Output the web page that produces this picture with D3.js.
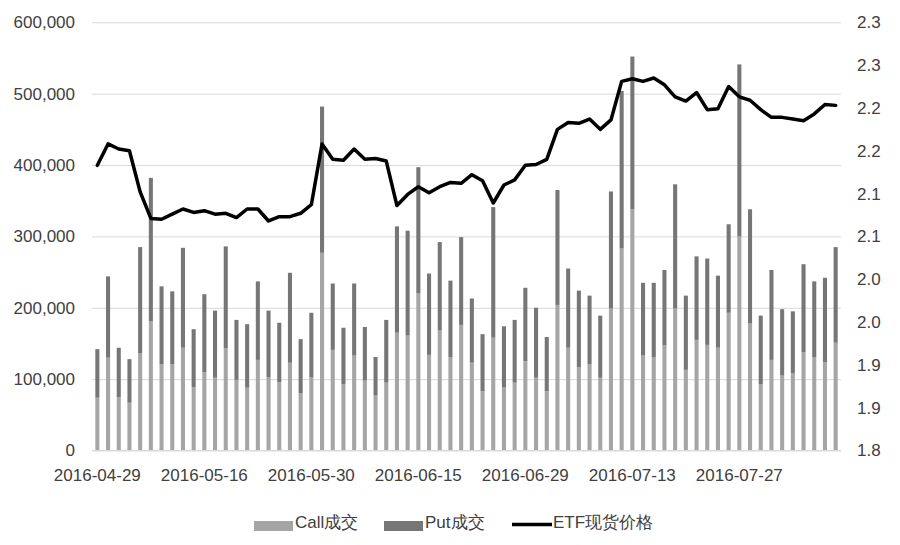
<!DOCTYPE html>
<html>
<head>
<meta charset="utf-8">
<script src="https://cdn.jsdelivr.net/npm/d3@7"></script>
<style>
  html, body { margin: 0; padding: 0; background: #fff; }
  svg { display: block; }
  text { font-family: "Liberation Sans", Arial, sans-serif; fill: #404040; }
</style>
</head>
<body>
<svg id="chart" width="900" height="545"></svg>
<script>
// ---- data ----
const dates = [
  "2016-04-29","2016-05-03","2016-05-04","2016-05-05","2016-05-06","2016-05-09","2016-05-10","2016-05-11","2016-05-12","2016-05-13",
  "2016-05-16","2016-05-17","2016-05-18","2016-05-19","2016-05-20","2016-05-23","2016-05-24","2016-05-25","2016-05-26","2016-05-27",
  "2016-05-30","2016-05-31","2016-06-01","2016-06-02","2016-06-03","2016-06-06","2016-06-07","2016-06-08","2016-06-13","2016-06-14",
  "2016-06-15","2016-06-16","2016-06-17","2016-06-20","2016-06-21","2016-06-22","2016-06-23","2016-06-24","2016-06-27","2016-06-28",
  "2016-06-29","2016-06-30","2016-07-01","2016-07-04","2016-07-05","2016-07-06","2016-07-07","2016-07-08","2016-07-11","2016-07-12",
  "2016-07-13","2016-07-14","2016-07-15","2016-07-18","2016-07-19","2016-07-20","2016-07-21","2016-07-22","2016-07-25","2016-07-26",
  "2016-07-27","2016-07-28","2016-07-29","2016-08-01","2016-08-02","2016-08-03","2016-08-04","2016-08-05","2016-08-08","2016-08-09"
];
const callVolume = [
  74000,130000,75000,67000,136000,181000,121000,121000,144000,89000,
  110000,102000,143000,99000,88000,127000,103000,96000,123000,80000,
  103000,277000,141000,93000,133000,98000,77000,95000,165000,161000,
  220000,134000,168000,131000,176000,123000,83000,158000,89000,95000,
  125000,102000,83000,204000,144000,117000,121000,102000,199000,283000,
  338000,133000,131000,147000,199000,113000,155000,148000,144000,193000,
  300000,178000,93000,127000,105000,108000,138000,131000,124000,151000
];
const putVolume = [
  68000,114000,69000,61000,149000,201000,109000,102000,140000,81000,
  109000,94000,143000,84000,89000,110000,93000,83000,126000,76000,
  90000,205000,93000,79000,101000,75000,54000,88000,149000,147000,
  177000,114000,124000,107000,123000,90000,80000,183000,85000,88000,
  103000,98000,76000,161000,111000,107000,96000,87000,164000,221000,
  214000,102000,104000,106000,174000,104000,117000,121000,101000,124000,
  241000,160000,96000,126000,93000,87000,123000,106000,118000,134000
];
const etfPrice = [
  2.133,2.158,2.152,2.150,2.102,2.071,2.070,2.076,2.082,2.078,
  2.080,2.076,2.077,2.072,2.082,2.082,2.068,2.073,2.073,2.077,
  2.087,2.158,2.140,2.139,2.152,2.140,2.141,2.138,2.086,2.099,
  2.108,2.101,2.108,2.113,2.112,2.122,2.115,2.089,2.110,2.116,
  2.133,2.134,2.140,2.175,2.183,2.182,2.187,2.175,2.186,2.231,
  2.234,2.231,2.235,2.227,2.213,2.208,2.218,2.198,2.199,2.225,
  2.213,2.209,2.198,2.189,2.189,2.187,2.185,2.193,2.204,2.203
];
const leftTicks = [0, 100000, 200000, 300000, 400000, 500000, 600000];
const rightTicks = [1.80, 1.85, 1.90, 1.95, 2.00, 2.05, 2.10, 2.15, 2.20, 2.25, 2.30];
const rightTickLabels = ["1.8","1.9","1.9","2.0","2.0","2.1","2.1","2.2","2.2","2.3","2.3"];
const xTickDates = ["2016-04-29","2016-05-16","2016-05-30","2016-06-15","2016-06-29","2016-07-13","2016-07-27"];
const seriesNames = ["Call成交", "Put成交", "ETF现货价格"];
const colors = { call: "#a5a5a5", put: "#767676", line: "#000000", grid: "#d9d9d9" };

// ---- layout ----
const svg = d3.select("#chart");
const plot = { left: 92, right: 841, top: 22.3, bottom: 450.5 };

const x = d3.scaleBand().domain(dates).range([plot.left, plot.right]).paddingInner(0.62).paddingOuter(0.31);
const yL = d3.scaleLinear().domain([0, 600000]).range([plot.bottom, plot.top]);
const yR = d3.scaleLinear().domain([1.8, 2.3]).range([plot.bottom, plot.top]);

// gridlines
svg.append("g")
  .attr("transform", `translate(${plot.left},0)`)
  .call(d3.axisLeft(yL).tickValues(leftTicks).tickSize(-(plot.right - plot.left)).tickFormat(""))
  .call(g => g.select(".domain").remove())
  .call(g => g.selectAll("line").attr("stroke", colors.grid).attr("stroke-width", 1));

// left axis labels
svg.append("g")
  .attr("transform", `translate(${plot.left - 17},0)`)
  .call(d3.axisLeft(yL).tickValues(leftTicks).tickSize(0).tickPadding(0).tickFormat(d3.format(",")))
  .call(g => g.select(".domain").remove())
  .call(g => g.selectAll("text").style("font-size", "17px").attr("fill", "#404040").attr("font-family", "Liberation Sans, Arial, sans-serif"));

// right axis labels
svg.append("g")
  .attr("transform", `translate(857,0)`)
  .call(d3.axisRight(yR).tickValues(rightTicks).tickSize(0).tickPadding(0)
    .tickFormat((d, i) => rightTickLabels[i]))
  .call(g => g.select(".domain").remove())
  .call(g => g.selectAll("text").style("font-size", "17px").attr("fill", "#404040").attr("font-family", "Liberation Sans, Arial, sans-serif"));

// stacked bars
const rows = dates.map((d, i) => ({ date: d, call: callVolume[i], put: putVolume[i] }));
const stack = d3.stack().keys(["call", "put"])(rows);
svg.append("g").selectAll("g").data(stack).join("g")
  .attr("fill", s => colors[s.key])
  .selectAll("rect").data(s => s).join("rect")
  .attr("x", d => x(d.data.date))
  .attr("width", x.bandwidth())
  .attr("y", d => yL(d[1]))
  .attr("height", d => yL(d[0]) - yL(d[1]));

// baseline
svg.append("line")
  .attr("x1", plot.left).attr("x2", plot.right)
  .attr("y1", plot.bottom).attr("y2", plot.bottom)
  .attr("stroke", colors.grid).attr("stroke-width", 1);

// x axis labels
svg.append("g")
  .attr("transform", `translate(0,${plot.bottom})`)
  .call(d3.axisBottom(x).tickValues(xTickDates).tickSize(0).tickPadding(18))
  .call(g => g.select(".domain").remove())
  .call(g => g.selectAll("text").style("font-size", "17px").attr("fill", "#404040").attr("font-family", "Liberation Sans, Arial, sans-serif"));

// line
const line = d3.line()
  .x((d, i) => x(dates[i]) + x.bandwidth() / 2)
  .y(d => yR(d));
svg.append("path")
  .datum(etfPrice)
  .attr("fill", "none")
  .attr("stroke", colors.line)
  .attr("stroke-width", 3.5)
  .attr("stroke-linejoin", "round")
  .attr("stroke-linecap", "round")
  .attr("d", line);

// legend
const legend = svg.append("g").attr("class", "legend");
const legendItems = [
  { name: seriesNames[0], type: "rect", color: colors.call, x: 254 },
  { name: seriesNames[1], type: "rect", color: colors.put, x: 384 },
  { name: seriesNames[2], type: "line", color: colors.line, x: 512 }
];
legendItems.forEach(it => {
  if (it.type === "rect") {
    legend.append("rect").attr("x", it.x).attr("y", 521).attr("width", 39).attr("height", 10).attr("fill", it.color);
  } else {
    legend.append("line").attr("x1", it.x).attr("x2", it.x + 40).attr("y1", 524.5).attr("y2", 524.5)
      .attr("stroke", it.color).attr("stroke-width", 3.5);
  }
  legend.append("text").attr("x", it.x + 41).attr("y", 528)
    .style("font-size", "17px").text(it.name);
});
</script>
</body>
</html>
